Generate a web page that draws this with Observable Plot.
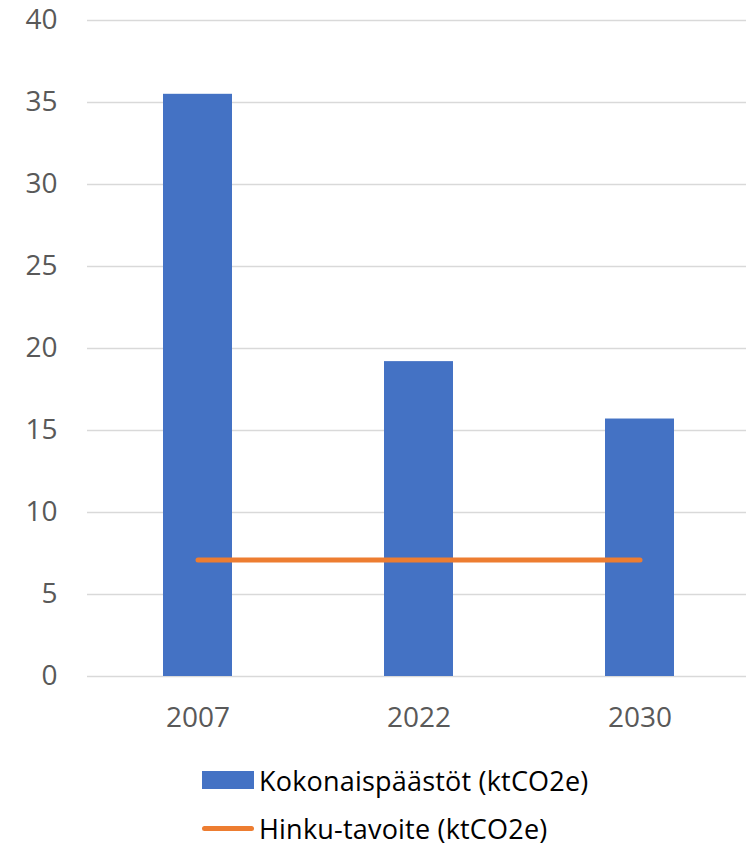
<!DOCTYPE html>
<html>
<head>
<meta charset="utf-8">
<script src="https://cdn.jsdelivr.net/npm/d3@7"></script>
<script src="https://cdn.jsdelivr.net/npm/@observablehq/plot@0.6"></script>
<style>
  body { margin: 0; background: #fff; font-family: "Open Sans", sans-serif; overflow: hidden; }
  #chart svg text { font-size: 28px; fill: #595959; font-family: "Open Sans", sans-serif; }
  #legend { margin-left: 202px; margin-top: 4px; }
  .row { display: flex; align-items: center; height: 52px; font-size: 27px; line-height: 1; color: #000; font-family: "Open Sans", sans-serif; letter-spacing: 0.2px; }
  .row + .row { height: 44px; }
  .row span { line-height: 1; }
  .sw { width: 52px; height: 18px; background: #4472C4; margin-right: 5px; flex: none; }
  .ln { width: 52px; height: 5px; border-radius: 3px; background: #ED7D31; margin-right: 5px; flex: none; }
</style>
</head>
<body>
<div id="chart"></div>
<div id="legend"></div>
<script>
const years = ["2007", "2022", "2030"];
const totalEmissions = [35.5, 19.2, 15.7];
const hinkuTarget = [7.1, 7.1, 7.1];
const yTicks = [0, 5, 10, 15, 20, 25, 30, 35, 40];
const seriesNames = ["Kokonaispäästöt (ktCO2e)", "Hinku-tavoite (ktCO2e)"];

const data = years.map((y, i) => ({year: y, total: totalEmissions[i], target: hinkuTarget[i]}));

const chart = Plot.plot({
  width: 746,
  height: 750,
  marginLeft: 87,
  marginRight: 0,
  marginTop: 20,
  marginBottom: 74,
  style: {fontFamily: "Open Sans, sans-serif", fontSize: "28px", color: "#595959", background: "#fff"},
  x: {domain: years, range: [87, 750], paddingInner: 0.686, paddingOuter: 0.343, label: null, tickSize: 0, tickPadding: 31},
  y: {domain: [0, 40], ticks: yTicks, label: null, tickSize: 0, tickPadding: 30},
  marks: [
    Plot.ruleY(yTicks, {stroke: "#d9d9d9", strokeWidth: 1.5}),
    Plot.barY(data, {x: "year", y: "total", fill: "#4472C4"}),
    Plot.line(data, {x: "year", y: "target", stroke: "#ED7D31", strokeWidth: 5, strokeLinecap: "round"})
  ]
});
document.getElementById("chart").appendChild(chart);

const legend = document.getElementById("legend");
seriesNames.forEach((name, i) => {
  const row = document.createElement("div");
  row.className = "row";
  const mark = document.createElement("div");
  mark.className = i === 0 ? "sw" : "ln";
  const label = document.createElement("span");
  label.textContent = name;
  row.appendChild(mark);
  row.appendChild(label);
  legend.appendChild(row);
});
</script>
</body>
</html>
